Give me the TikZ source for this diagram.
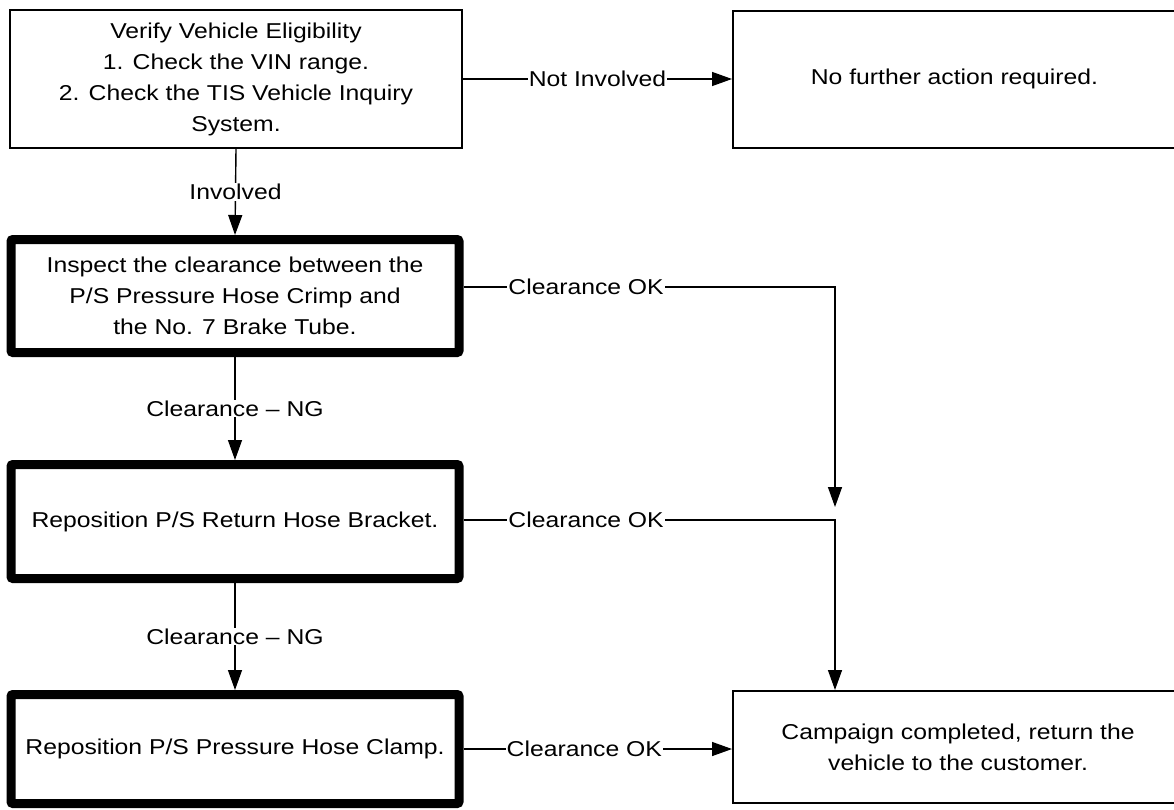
\documentclass[tikz,border=0pt]{standalone}
\usepackage{fontspec}
\setmainfont{Liberation Sans}[FakeStretch=1.15]
\usetikzlibrary{arrows.meta}
\begin{document}
\begin{tikzpicture}[x=1pt,y=-1pt,
  boxfont/.style={font=\fontsize{21.5}{31}\selectfont},
  thinbox/.style={draw, line width=2pt, align=center, boxfont, inner sep=0pt},
  thickbox/.style={draw, line width=9pt, rounded corners=2pt, align=center, boxfont, inner sep=0pt},
  conn/.style={line width=1.4pt},
  arr/.style={conn, -{Triangle[length=20pt,width=14pt]}},
  lbl/.style={fill=white, inner sep=1pt, font=\fontsize{21.5}{25}\selectfont}]
\useasboundingbox (0,0) rectangle (1174,809);
\clip (0,0) rectangle (1174,809);
\fill[white] (0,0) rectangle (1174,809);

\node[thinbox, minimum width=452pt, minimum height=138pt] (verify) at (236,79)
  {Verify Vehicle Eligibility\\1. Check the VIN range.\\2. Check the TIS Vehicle Inquiry\\System.};
\node[thinbox, minimum width=443pt, minimum height=137pt] (notreq) at (954.5,79)
  {No further action required.};
\node[thickbox, minimum width=448pt, minimum height=113pt] (inspect) at (235,296)
  {Inspect the clearance between the\\P/S Pressure Hose Crimp and\\the No. 7 Brake Tube.};
\node[thickbox, minimum width=448pt, minimum height=114pt] (bracket) at (235,521.5)
  {Reposition P/S Return Hose Bracket.};
\node[thickbox, minimum width=448pt, minimum height=109pt] (clamp) at (235,749)
  {Reposition P/S Pressure Hose Clamp.};
\node[thinbox, minimum width=450pt, minimum height=112pt] (campaign) at (958,747)
  {Campaign completed, return the\\vehicle to the customer.};

\coordinate (ok1) at (835,287);
\coordinate (tip1) at (835,507);
\coordinate (ok2) at (835,520);

\draw[arr] (verify.east) -- node[lbl]{Not Involved} (verify.east -| notreq.west);
\draw[arr] (verify.south) -- node[lbl]{Involved} (inspect.north);
\draw[arr] (inspect.south) -- node[lbl]{Clearance – NG} (bracket.north);
\draw[arr] (bracket.south) -- node[lbl]{Clearance – NG} (clamp.north);
\draw[arr] (inspect.east |- ok1) -- node[lbl,pos=0.33]{Clearance OK} (ok1) -- (tip1);
\draw[arr] (bracket.east |- ok2) -- node[lbl,pos=0.33]{Clearance OK} (ok2) -- (ok2 |- campaign.north);
\draw[arr] (clamp.east) -- node[lbl,pos=0.45]{Clearance OK} (clamp.east -| campaign.west);
\end{tikzpicture}
\end{document}
